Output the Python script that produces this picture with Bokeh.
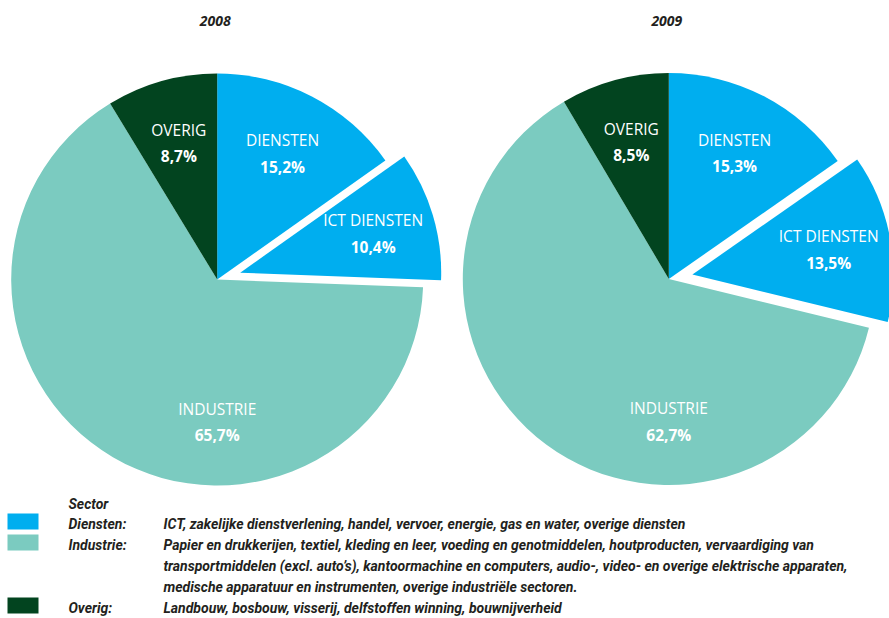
import math
from bokeh.plotting import figure
from bokeh.models import Range1d
from bokeh.core.properties import value
from bokeh.embed import file_html
from bokeh.resources import INLINE

# ---------------- data ----------------
years = ["2008", "2009"]
sectors = ["DIENSTEN", "ICT DIENSTEN", "INDUSTRIE", "OVERIG"]
shares_2008 = [15.2, 10.4, 65.7, 8.7]
shares_2009 = [15.3, 13.5, 62.7, 8.5]
sector_colors = ["#00AEEF", "#00AEEF", "#7BCBC0", "#02441F"]
exploded = [False, True, False, False]

legend_title = "Sector"
legend_names = ["Diensten:", "Industrie:", "Overig:"]
legend_colors = ["#00AEEF", "#7BCBC0", "#02441F"]
legend_desc = [
    ["ICT, zakelijke dienstverlening, handel, vervoer, energie, gas en water, overige diensten"],
    ["Papier en drukkerijen, textiel, kleding en leer, voeding en genotmiddelen, houtproducten, vervaardiging van",
     "transportmiddelen (excl. auto\u2019s), kantoormachine en computers, audio-, video- en overige elektrische apparaten,",
     "medische apparatuur en instrumenten, overige industri\u00eble sectoren."],
    ["Landbouw, bosbouw, visserij, delfstoffen winning, bouwnijverheid"],
]

# ---------------- layout ----------------
W, H = 889, 618
def sy(py):  # screen y (px from top) -> data y
    return H - py

p = figure(width=W, height=H, output_backend="svg", toolbar_location=None,
           x_range=Range1d(0, W), y_range=Range1d(0, H),
           x_axis_location=None, y_axis_location=None, min_border=0)
p.grid.visible = False
p.outline_line_color = None
p.background_fill_color = "white"
p.border_fill_color = "white"

FONT = value("Open Sans")
centers = [(216.7, sy(279.0)), (668.3, sy(278.5))]
R = 206
R_EXPL = 201
EXPLODE = 24
LABEL_FRAC = 0.69

def fmt(v):
    return f"{v:.1f}".replace(".", ",") + "%"

for year, shares, (cx, cy) in zip(years, [shares_2008, shares_2009], centers):
    cum = 0.0
    xs, ys, rs, sa, ea, cols = [], [], [], [], [], []
    lx, ly, lab, val = [], [], [], []
    for name, s, col, ex in zip(sectors, shares, sector_colors, exploded):
        a0 = cum / 100 * 2 * math.pi          # clockwise from top
        a1 = (cum + s) / 100 * 2 * math.pi
        cum += s
        mid = (a0 + a1) / 2
        ox, oy = (EXPLODE * math.sin(mid), EXPLODE * math.cos(mid)) if ex else (0, 0)
        xs.append(cx + ox); ys.append(cy + oy)
        rs.append(R_EXPL if ex else R)
        sa.append(math.pi / 2 - a0); ea.append(math.pi / 2 - a1)
        cols.append(col)
        la = math.pi if name == "INDUSTRIE" else mid
        d = LABEL_FRAC * (R_EXPL if ex else R)
        bx = cx + ox + d * math.sin(la)
        by = cy + oy + d * math.cos(la)
        lx.append(bx); ly.append(by + 13); lab.append(name)
        val.append((bx, by - 13.5, fmt(s)))
    p.wedge(x=xs, y=ys, radius=rs, start_angle=sa, end_angle=ea, direction="clock",
            fill_color=cols, line_color=None)
    p.text(x=lx, y=ly, text=lab, text_font=FONT, text_font_size="15.5px",
           text_color="white", text_align="center", text_baseline="middle")
    p.text(x=[v[0] for v in val], y=[v[1] for v in val], text=[v[2] for v in val],
           text_font=FONT, text_font_size="15.5px", text_font_style="bold",
           text_color="white", text_align="center", text_baseline="middle")
    p.text(x=[cx - 2], y=[sy(20)], text=[year], text_font=FONT, text_font_size="14px",
           text_font_style="bold italic", text_color="#231F20",
           text_align="center", text_baseline="middle")

# ---------------- legend ----------------
LFONT = value("Roboto")
LSIZE = "14px"
LCOL = "#231F20"
p.text(x=[68], y=[sy(503)], text=[legend_title], text_font=LFONT, text_font_size=LSIZE,
       text_font_style="bold italic", text_color=LCOL, text_baseline="middle")
line_y = 523
for name, col, desc in zip(legend_names, legend_colors, legend_desc):
    p.quad(left=[7], right=[38], top=[sy(line_y - 10)], bottom=[sy(line_y + 6)],
           fill_color=col, line_color=None)
    p.text(x=[68], y=[sy(line_y)], text=[name], text_font=LFONT, text_font_size=LSIZE,
           text_font_style="bold italic", text_color=LCOL, text_baseline="middle")
    for i, d in enumerate(desc):
        p.text(x=[163], y=[sy(line_y + i * 21)], text=[d], text_font=LFONT,
               text_font_size=LSIZE, text_font_style="bold italic", text_color=LCOL,
               text_baseline="middle")
    line_y += 21 * len(desc)

open("out.html", "w").write(file_html(p, INLINE))
